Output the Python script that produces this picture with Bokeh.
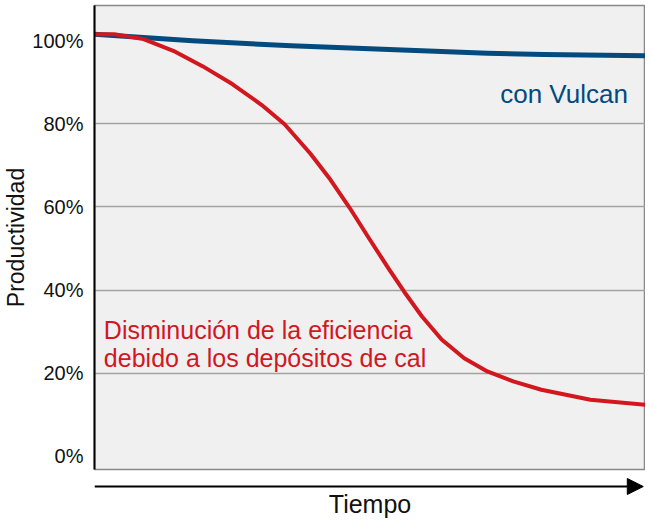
from bokeh.plotting import figure
from bokeh.layouts import column
from bokeh.models import Range1d, FixedTicker, PrintfTickFormatter, Arrow, NormalHead, Label
from bokeh.embed import file_html
from bokeh.resources import INLINE

# data (time normalised 0..100, productivity in %)
red_t = [0, 3.6, 8.9, 14.3, 19.6, 25.0, 30.3, 34.5, 39.2, 42.8, 46.3, 49.9, 53.5, 56.2,
         59.4, 63.0, 67.1, 71.3, 76.0, 81.1, 90, 100]
red_y = [101.6, 101.6, 100.4, 97.6, 93.9, 89.6, 84.6, 79.9, 72.8, 66.6, 59.8, 52.3, 44.9, 39.6,
         33.7, 28.1, 23.6, 20.4, 18.0, 16.0, 13.6, 12.4]
blue_t = [0, 17.8, 35.7, 53.5, 71.3, 81.6, 100]
blue_y = [101.6, 100.0, 98.8, 97.9, 97.0, 96.7, 96.4]
y_ticks = [0, 20, 40, 60, 80, 100]
grid_ticks = [20, 40, 60, 80]

RED = "#d2171f"
BLUE = "#034a7e"
FONT = "Liberation Sans"

xr = Range1d(0, 100)
p = figure(width=645, height=471, output_backend="svg", toolbar_location=None,
           x_range=xr, y_range=Range1d(-3.2, 108.5),
           min_border_left=84, min_border_right=0, min_border_top=5, min_border_bottom=2)
p.background_fill_color = "#f0f0f0"
p.border_fill_color = "white"
p.outline_line_color = "#888888"
p.outline_line_width = 1.5

p.xaxis.visible = False
p.xgrid.visible = False
p.ygrid.ticker = FixedTicker(ticks=grid_ticks)
p.ygrid.grid_line_color = "#a3a39b"
p.ygrid.grid_line_width = 1.5

ya = p.yaxis[0]
ya.ticker = FixedTicker(ticks=y_ticks)
ya.formatter = PrintfTickFormatter(format="%d%%")
ya.major_tick_line_color = None
ya.minor_tick_line_color = None
ya.axis_line_color = "black"
ya.axis_line_width = 2
ya.major_label_text_font = FONT
ya.major_label_text_font_size = "20px"
ya.major_label_text_color = "#111111"
ya.major_label_standoff = 5
ya.axis_label = "Productividad"
ya.axis_label_text_font = FONT
ya.axis_label_text_font_size = "23px"
ya.axis_label_text_font_style = "normal"
ya.axis_label_text_color = "#111111"
ya.axis_label_standoff = 0

p.line(blue_t, blue_y, line_color=BLUE, line_width=5, line_join="round")
p.line(red_t, red_y, line_color=RED, line_width=4, line_join="round")

p.add_layout(Label(x=96.8, y=87.3, text="con Vulcan", text_color=BLUE, text_font=FONT,
                   text_font_size="26px", text_align="right", text_baseline="alphabetic"))
p.add_layout(Label(x=1.7, y=30.4, text="Disminución de la eficiencia",
                   text_color=RED, text_font=FONT, text_font_size="25px",
                   text_align="left", text_baseline="alphabetic"))
p.add_layout(Label(x=1.7, y=23.7, text="debido a los depósitos de cal",
                   text_color=RED, text_font=FONT, text_font_size="25px",
                   text_align="left", text_baseline="alphabetic"))

# strip below the chart for the time arrow
p2 = figure(width=645, height=47, output_backend="svg", toolbar_location=None,
            x_range=xr, y_range=Range1d(47, 0),
            min_border_left=87, min_border_right=0, min_border_top=0, min_border_bottom=0)
p2.axis.visible = False
p2.grid.visible = False
p2.outline_line_color = None
p2.background_fill_color = "white"
p2.border_fill_color = "white"
p2.add_layout(Arrow(x_start=0, y_start=15, x_end=99.6, y_end=15, line_color="black", line_width=2,
                    end=NormalHead(size=16, fill_color="black", line_color="black")))
p2.add_layout(Label(x=50, y=32, text="Tiempo", text_font=FONT, text_font_size="25px",
                    text_color="#111111", text_align="center", text_baseline="middle"))

layout = column(p, p2, spacing=0)
open("out.html", "w").write(file_html(layout, INLINE))
